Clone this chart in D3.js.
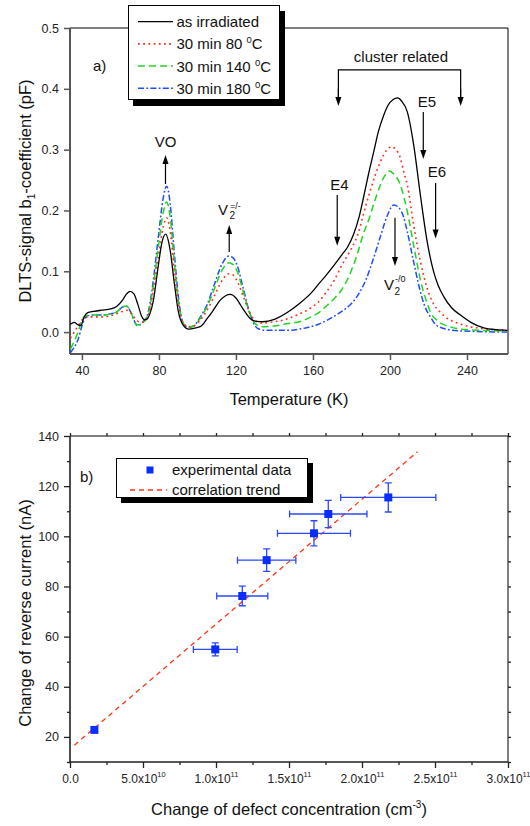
<!DOCTYPE html>
<html>
<head>
<meta charset="utf-8">
<script src="https://cdn.jsdelivr.net/npm/d3@7"></script>
<style>
  body { margin: 0; background: #fff; }
  svg { display: block; font-family: "Liberation Sans", Arial, Helvetica, sans-serif; }
</style>
</head>
<body>
<svg id="chart" width="530" height="826"></svg>
<script>
// ---------- panel a) DLTS spectra: temperature (K) vs b1 coefficient (pF) ----------
const irradiatedT = [34,36,38,39.5,41,43,46,50,55,58,61,63,65,67,69,71,72.5,74,75.5,77,79.7,81.4,83.5,85.8,88,90,92.5,95.5,99,102,105,108,112,117,120,122.3,125,127.5,130,134,140,147,153,159,164,167,171,175,178,181,184,186.5,189,191.6,194,196.8,199,201.5,204,206,209,212.3,215.8,219.3,222.7,225,228,232,236.6,242,248.7,255,261];
const irradiatedB1 = [0.013,0.016,0.012,0.011,0.024,0.032,0.034,0.036,0.038,0.042,0.052,0.062,0.067,0.063,0.046,0.026,0.02,0.022,0.032,0.05,0.11,0.145,0.161,0.135,0.08,0.035,0.012,0.005,0.007,0.01,0.022,0.035,0.053,0.062,0.056,0.045,0.032,0.022,0.018,0.017,0.021,0.033,0.047,0.064,0.083,0.094,0.11,0.127,0.14,0.16,0.19,0.225,0.262,0.297,0.33,0.357,0.373,0.382,0.385,0.38,0.362,0.308,0.225,0.149,0.099,0.077,0.058,0.04,0.028,0.016,0.007,0.004,0.003];

const anneal80T = [34,36,38,40,42,45,50,55,58,61,63,65,67,69,71,73,75.5,77.1,79.7,82.3,84,85.8,88,90.1,92.7,95.5,98,101.5,105,108.4,112.8,116.3,118.5,120.6,124,127.5,130,133,140,147,153,159,163,167,171,175,179,183,188,192,195,198,201,203,205.4,207,209,212.3,215.8,219.3,222,226,230,235,240,250,261];
const anneal80B1 = [-0.01,0.0,0.01,0.02,0.024,0.025,0.025,0.027,0.03,0.034,0.036,0.033,0.025,0.018,0.016,0.019,0.04,0.068,0.123,0.174,0.188,0.167,0.102,0.047,0.014,0.009,0.01,0.02,0.036,0.057,0.085,0.096,0.094,0.084,0.057,0.03,0.019,0.015,0.017,0.022,0.03,0.04,0.05,0.066,0.085,0.11,0.132,0.158,0.214,0.255,0.28,0.298,0.305,0.3,0.286,0.265,0.242,0.176,0.116,0.072,0.05,0.033,0.022,0.015,0.01,0.005,0.003];

const anneal140T = [34,36,38,40,42,45,50,55,58,61,63,65,67,68.6,70,72,74,75.5,77.1,79.7,82.3,84,85.8,88,90.1,92.7,95.5,98,101.5,105,108.4,112.8,116.3,118.5,120.6,124,127.5,130,133,140,147,153,159,163,167,171,175,179,183,186,189,192,195,197.5,199.5,202,205.4,209,212.3,216,219,221,225,231,240,261];
const anneal140B1 = [-0.028,-0.015,0.0,0.02,0.027,0.028,0.028,0.03,0.033,0.041,0.043,0.036,0.021,0.012,0.012,0.016,0.026,0.045,0.077,0.14,0.198,0.214,0.19,0.115,0.052,0.014,0.008,0.01,0.023,0.042,0.068,0.102,0.114,0.111,0.1,0.064,0.028,0.014,0.009,0.01,0.014,0.017,0.025,0.032,0.043,0.055,0.07,0.094,0.128,0.16,0.185,0.215,0.242,0.258,0.265,0.26,0.242,0.198,0.143,0.083,0.05,0.033,0.018,0.009,0.004,0.002];

const anneal180T = [34,36,38,40,42,45,50,55,58,61,63,65,67,68.6,70,72,74,75.5,77.1,79.7,82.3,84,85.8,88,90.1,92.7,95.5,98,101.5,105,108.4,112.8,116.3,118.5,120.6,124,127.5,130,132,136,147,153,159,163,167,171,175,180,184,188,191,195,198.4,202,204.5,207,209,212,215.5,218,221,223,226,236,261];
const anneal180B1 = [-0.034,-0.025,-0.012,0.01,0.025,0.028,0.028,0.03,0.033,0.041,0.043,0.035,0.02,0.011,0.012,0.018,0.028,0.05,0.086,0.157,0.222,0.24,0.212,0.129,0.058,0.014,0.008,0.01,0.025,0.045,0.075,0.112,0.125,0.122,0.11,0.069,0.028,0.01,0.005,0.003,0.003,0.005,0.009,0.013,0.019,0.026,0.034,0.047,0.064,0.09,0.117,0.157,0.19,0.209,0.205,0.19,0.165,0.12,0.07,0.043,0.025,0.015,0.008,0.002,0.0];

const seriesNames = ["as irradiated", "30 min 80 ", "30 min 140 ", "30 min 180 "];
const tempTicks = [40, 80, 120, 160, 200, 240];
const b1Ticks = [0.0, 0.1, 0.2, 0.3, 0.4, 0.5];

// ---------- panel b) reverse current vs defect concentration ----------
const defectConc = [1.67e10, 9.95e10, 1.18e11, 1.347e11, 1.671e11, 1.769e11, 2.18e11];
const reverseCurrent = [22.8, 54.9, 76.2, 90.5, 101.2, 108.9, 115.5];
const defectConcErr = [0, 1.5e10, 1.75e10, 2.0e10, 2.5e10, 2.65e10, 3.26e10];
const reverseCurrentErr = [0, 2.6, 3.9, 4.5, 5.0, 5.4, 5.8];
const trendConc = [3e9, 2.38e11];
const trendCurrent = [16.7, 133.7];
const concTicks = [0, 5e10, 1e11, 1.5e11, 2e11, 2.5e11, 3e11];
const concTickMantissa = ["0.0", "5.0", "1.0", "1.5", "2.0", "2.5", "3.0"];
const concTickExponent = ["", "10", "11", "11", "11", "11", "11"];
const currentTicks = [20, 40, 60, 80, 100, 120, 140];

const svg = d3.select("#chart");
const tickColor = "#222";

// ================= panel a =================
const xA = d3.scaleLinear().domain([33.8, 261.3]).range([70, 508]);
const yA = d3.scaleLinear().domain([-0.036, 0.5]).range([354, 28]);
const gA = svg.append("g");

// frame (top and right thin)
gA.append("path")
  .attr("d", `M${xA.range()[0]},${yA.range()[1]}H${xA.range()[1]}V${yA.range()[0]}`)
  .attr("fill", "none").attr("stroke", "#000").attr("stroke-width", 1);

const axA_x = gA.append("g").attr("transform", `translate(0,${yA.range()[0]})`)
  .call(d3.axisBottom(xA).tickValues(tempTicks).tickSize(6).tickPadding(6).tickFormat(d3.format("d")));
const axA_y = gA.append("g").attr("transform", `translate(${xA.range()[0]},0)`)
  .call(d3.axisLeft(yA).tickValues(b1Ticks).tickSize(6).tickPadding(5).tickFormat(d3.format(".1f")));
[axA_x, axA_y].forEach(ax => {
  ax.select(".domain").attr("stroke", "#555").attr("stroke-width", 2);
  ax.selectAll(".tick line").attr("stroke", "#555").attr("stroke-width", 1.5);
  ax.selectAll(".tick text").attr("fill", tickColor).attr("font-size", 12.5)
    .attr("font-family", "Liberation Sans, Arial, sans-serif");
});
axA_x.select(".domain").attr("d", `M${xA.range()[0]},0H${xA.range()[1]}`);
axA_y.select(".domain").attr("d", `M0,${yA.range()[0]}V${yA.range()[1]}`);

const lineA = d3.line().x(d => xA(d[0])).y(d => yA(d[1])).curve(d3.curveMonotoneX);
const spectra = [
  { t: irradiatedT, v: irradiatedB1, color: "#000", dash: null, w: 1.3 },
  { t: anneal80T, v: anneal80B1, color: "#ff2d1a", dash: "1.8,3.4", w: 1.6 },
  { t: anneal140T, v: anneal140B1, color: "#1fd61f", dash: "7,4", w: 1.5 },
  { t: anneal180T, v: anneal180B1, color: "#1f4cff", dash: "6,2.3,1.8,2.3", w: 1.5 }
];
svg.append("clipPath").attr("id", "clipA").append("rect")
  .attr("x", 70).attr("y", 28).attr("width", 438).attr("height", 326);
[3, 2, 1, 0].forEach(i => {
  const s = spectra[i];
  gA.append("path")
    .datum(d3.zip(s.t, s.v))
    .attr("clip-path", "url(#clipA)")
    .attr("fill", "none").attr("stroke", s.color).attr("stroke-width", s.w)
    .attr("stroke-dasharray", s.dash).attr("d", lineA);
});

// vertical arrow with a filled head at y1
function arrow(g, x, y0, y1) {
  const dir = y1 > y0 ? 1 : -1;
  g.append("line").attr("x1", x).attr("x2", x).attr("y1", y0).attr("y2", y1 - dir * 8)
    .attr("stroke", "#000").attr("stroke-width", 1.2);
  g.append("path").attr("d", `M${x - 3},${y1 - dir * 9}L${x + 3},${y1 - dir * 9}L${x},${y1}Z`).attr("fill", "#000");
}
function label(g, x, y, txt, size, anchor) {
  return g.append("text").attr("x", x).attr("y", y).attr("font-size", size)
    .attr("text-anchor", anchor || "middle").attr("fill", "#111").text(txt);
}

// peak annotations
label(gA, xA(83.4), yA(0.304), "VO", 15);
arrow(gA, xA(83.4), yA(0.2435), yA(0.291));

gA.append("text").attr("x", xA(110.7)).attr("y", yA(0.1925)).attr("font-size", 15).attr("fill", "#111").text("V");
gA.append("text").attr("x", xA(116.6)).attr("y", yA(0.1855)).attr("font-size", 10).attr("fill", "#111").text("2");
gA.append("text").attr("x", xA(116.9)).attr("y", yA(0.2025)).attr("font-size", 9).attr("fill", "#111").text("=/-");
arrow(gA, xA(116.5), yA(0.1317), yA(0.176));

label(gA, xA(205.7), yA(0.4445), "cluster related", 15);
gA.append("path")
  .attr("d", `M${xA(173.2)},${yA(0.3717) - 8}V${yA(0.431)}H${xA(236.7)}V${yA(0.3717) - 8}`)
  .attr("fill", "none").attr("stroke", "#000").attr("stroke-width", 1.2);
arrow(gA, xA(173.2), yA(0.40), yA(0.3717));
arrow(gA, xA(236.7), yA(0.40), yA(0.3717));

label(gA, xA(219.2), yA(0.370), "E5", 15);
arrow(gA, xA(217.3), yA(0.362), yA(0.2846));
label(gA, xA(224.4), yA(0.255), "E6", 15);
arrow(gA, xA(223.7), yA(0.245), yA(0.154));
label(gA, xA(173.8), yA(0.2336), "E4", 15);
arrow(gA, xA(172.6), yA(0.2254), yA(0.142));

arrow(gA, xA(202.6), yA(0.188), yA(0.1087));
gA.append("text").attr("x", xA(196.9)).attr("y", yA(0.0692)).attr("font-size", 15).attr("fill", "#111").text("V");
gA.append("text").attr("x", xA(202.4)).attr("y", yA(0.0612)).attr("font-size", 10).attr("fill", "#111").text("2");
gA.append("text").attr("x", xA(202.6)).attr("y", yA(0.0822)).attr("font-size", 9).attr("fill", "#111").text("-/0");

gA.append("text").attr("x", 93).attr("y", 71).attr("font-size", 15).attr("fill", "#111").text("a)");

// axis titles
gA.append("text").attr("x", 289).attr("y", 405).attr("text-anchor", "middle")
  .attr("font-size", 16.5).attr("fill", "#111").text("Temperature (K)");
const yTitleA = gA.append("text").attr("transform", "translate(31,191) rotate(-90)")
  .attr("text-anchor", "middle").attr("font-size", 16.5).attr("fill", "#111");
yTitleA.append("tspan").text("DLTS-signal b");
yTitleA.append("tspan").attr("font-size", 10).attr("dy", 4).text("1");
yTitleA.append("tspan").attr("dy", -4).text("-coefficient (pF)");

// legend a
const legA = gA.append("g");
legA.append("rect").attr("x", 133).attr("y", 11).attr("width", 152).attr("height", 95).attr("fill", "#000");
legA.append("rect").attr("x", 128.5).attr("y", 5.5).attr("width", 151).attr("height", 94)
  .attr("fill", "#fff").attr("stroke", "#000").attr("stroke-width", 1);
spectra.forEach((s, i) => {
  const yy = 21.7 + i * 22.2;
  legA.append("line").attr("x1", 138).attr("x2", 173).attr("y1", yy).attr("y2", yy)
    .attr("stroke", s.color).attr("stroke-width", s.w).attr("stroke-dasharray", s.dash);
  const t = legA.append("text").attr("x", 176.5).attr("y", yy + 5.5).attr("font-size", 15).attr("fill", "#111");
  t.append("tspan").text(seriesNames[i]);
  if (i > 0) {
    t.append("tspan").attr("font-size", 9.5).attr("dy", -6).text("0");
    t.append("tspan").attr("dy", 6).text("C");
  }
});

// ================= panel b =================
const xB = d3.scaleLinear().domain([0, 3e11]).range([70, 508]);
const yB = d3.scaleLinear().domain([10, 140]).range([762, 436]);
const gB = svg.append("g");

gB.append("path")
  .attr("d", `M${xB.range()[0]},${yB.range()[1]}H${xB.range()[1]}V${yB.range()[0]}`)
  .attr("fill", "none").attr("stroke", "#000").attr("stroke-width", 1);

const minorConc = d3.range(2.5e10, 3e11, 5e10);
const minorCurrent = d3.range(10, 140, 20);

const axB_x = gB.append("g").attr("transform", `translate(0,${yB.range()[0]})`)
  .call(d3.axisBottom(xB).tickValues(concTicks).tickSize(6).tickPadding(8).tickFormat(""));
gB.append("g").attr("transform", `translate(0,${yB.range()[0]})`)
  .call(d3.axisBottom(xB).tickValues(minorConc).tickSize(3).tickFormat(""));
gB.append("g").attr("transform", `translate(0,${yB.range()[1]})`)
  .call(d3.axisTop(xB).tickValues(concTicks.concat(minorConc)).tickSize(3).tickFormat(""));
const axB_y = gB.append("g").attr("transform", `translate(${xB.range()[0]},0)`)
  .call(d3.axisLeft(yB).tickValues(currentTicks).tickSize(6).tickPadding(5).tickFormat(d3.format("d")));
gB.append("g").attr("transform", `translate(${xB.range()[0]},0)`)
  .call(d3.axisLeft(yB).tickValues(minorCurrent).tickSize(3).tickFormat(""));
gB.append("g").attr("transform", `translate(${xB.range()[1]},0)`)
  .call(d3.axisRight(yB).tickValues(currentTicks.concat(minorCurrent)).tickSize(3).tickFormat(""));
gB.selectAll(".domain").attr("stroke", "none");
gB.selectAll(".tick line").attr("stroke", "#222").attr("stroke-width", 1.3);
axB_y.selectAll(".tick text").attr("fill", tickColor).attr("font-size", 12.5)
  .attr("font-family", "Liberation Sans, Arial, sans-serif");
gB.append("path").attr("d", `M${xB.range()[0]},${yB.range()[1]}V${yB.range()[0]}H${xB.range()[1]}`)
  .attr("fill", "none").attr("stroke", "#222").attr("stroke-width", 1.6);

// x tick labels with powers of ten
axB_x.selectAll(".tick").each(function (d, i) {
  const t = d3.select(this).append("text").attr("y", 21).attr("text-anchor", "middle")
    .attr("fill", tickColor).attr("font-size", 12).attr("font-family", "Liberation Sans, Arial, sans-serif");
  if (concTickExponent[i] === "") {
    t.text(concTickMantissa[i]);
  } else {
    t.append("tspan").text(concTickMantissa[i] + "x10");
    t.append("tspan").attr("font-size", 7.5).attr("dy", -6).text(concTickExponent[i]);
  }
});

// trend line
gB.append("path").datum(d3.zip(trendConc, trendCurrent))
  .attr("fill", "none").attr("stroke", "#ff3418").attr("stroke-width", 1.3)
  .attr("stroke-dasharray", "5,4")
  .attr("d", d3.line().x(d => xB(d[0])).y(d => yB(d[1])));

// error bars and markers
const errColor = "#2a48ff";
const pts = d3.range(defectConc.length).map(i => ({
  x: defectConc[i], y: reverseCurrent[i], ex: defectConcErr[i], ey: reverseCurrentErr[i]
}));
const eb = gB.append("g").attr("stroke", errColor).attr("stroke-width", 1.3).attr("fill", "none");
pts.filter(p => p.ex > 0).forEach(p => {
  const x0 = xB(p.x - p.ex), x1 = xB(p.x + p.ex), yy = yB(p.y);
  eb.append("path").attr("d", `M${x0},${yy}H${x1}M${x0},${yy - 3.5}V${yy + 3.5}M${x1},${yy - 3.5}V${yy + 3.5}`);
  const y0 = yB(p.y - p.ey), y1 = yB(p.y + p.ey), xx = xB(p.x);
  eb.append("path").attr("d", `M${xx},${y0}V${y1}M${xx - 3.5},${y0}H${xx + 3.5}M${xx - 3.5},${y1}H${xx + 3.5}`);
});
gB.append("g").selectAll("rect").data(pts).join("rect")
  .attr("x", d => xB(d.x) - 4).attr("y", d => yB(d.y) - 4)
  .attr("width", 8).attr("height", 8).attr("fill", "#0a2dff");

gB.append("text").attr("x", 80).attr("y", 482).attr("font-size", 15).attr("fill", "#111").text("b)");

// legend b
const legB = gB.append("g");
legB.append("rect").attr("x", 121).attr("y", 463).attr("width", 192).attr("height", 40).attr("fill", "#000");
legB.append("rect").attr("x", 116.5).attr("y", 458.5).attr("width", 191).attr("height", 39)
  .attr("fill", "#fff").attr("stroke", "#000").attr("stroke-width", 1);
legB.append("rect").attr("x", 146.5).attr("y", 466.5).attr("width", 7).attr("height", 7).attr("fill", "#0a2dff");
legB.append("text").attr("x", 172).attr("y", 475).attr("font-size", 15).attr("fill", "#111").text("experimental data");
legB.append("line").attr("x1", 130).attr("x2", 167).attr("y1", 490).attr("y2", 490)
  .attr("stroke", "#ff3418").attr("stroke-width", 1.3).attr("stroke-dasharray", "5,4");
legB.append("text").attr("x", 172).attr("y", 495).attr("font-size", 15).attr("fill", "#111").text("correlation trend");

// axis titles
const xTitleB = gB.append("text").attr("x", 289).attr("y", 815).attr("text-anchor", "middle")
  .attr("font-size", 16.5).attr("fill", "#111");
xTitleB.append("tspan").text("Change of defect concentration (cm");
xTitleB.append("tspan").attr("font-size", 10).attr("dy", -7).text("-3");
xTitleB.append("tspan").attr("dy", 7).text(")");
gB.append("text").attr("transform", "translate(31,613) rotate(-90)").attr("text-anchor", "middle")
  .attr("font-size", 16.5).attr("fill", "#111").text("Change of reverse current (nA)");
</script>
</body>
</html>
